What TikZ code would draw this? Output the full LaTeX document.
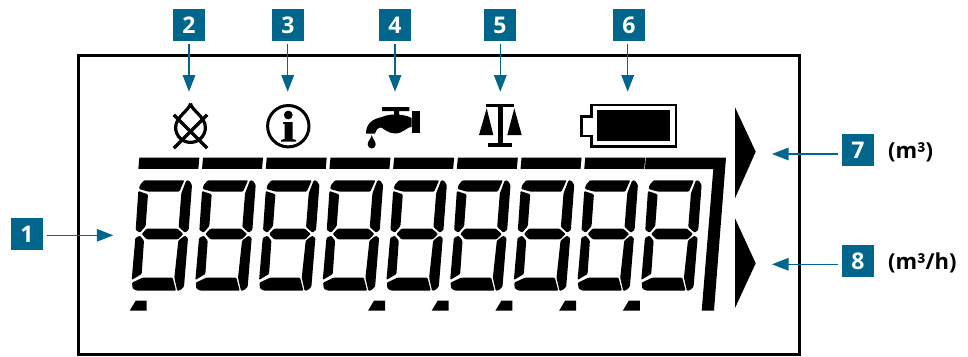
\documentclass[tikz,border=0pt]{standalone}
\usepackage{fontspec}
\setmainfont{Open Sans}
\usetikzlibrary{arrows.meta}
\definecolor{teal}{HTML}{00668C}
\tikzset{
  badge/.style={fill=teal,text=white,minimum size=32pt,inner sep=0pt,outer sep=0pt,font=\fontsize{23}{23}\selectfont\bfseries},
  unit/.style={anchor=west,inner sep=0pt,font=\fontsize{22}{22}\selectfont\bfseries},
  arr/.style={draw=teal,line width=1.3pt,-{Triangle[length=16.5pt,width=12.5pt,fill=teal]}},
  seg/.style={fill=black,draw=none,rounded corners=1pt}
}
\begin{document}
\begin{tikzpicture}[x=1pt,y=-1pt]
\useasboundingbox (0,0) rectangle (968,356);
% frame
\draw[line width=3.3pt] (78.2,55.7) rectangle (799.5,354.2);
% digits
\foreach \i in {0,...,8}{
  \begin{scope}[shift={(120+63.7*\i,90)},x=0.3333pt,y=-0.3333pt]
    \fill[seg] (57,297)--(60,285)--(72,271)--(193,271)--(178,305)--(85,305)--cycle;
    \fill[seg] (199,271)--(208,272)--(216,285)--(206,420)--(195,428)--(176,411)--(184,310)--cycle;
    \fill[seg] (55,303)--(84,313)--(77,408)--(60,428)--(47,420)--cycle;
    \fill[seg] (65,432)--(80,416)--(172,416)--(190,432)--(174,448)--(80,448)--cycle;
    \fill[seg] (46,444)--(60,437)--(72,452)--(65,552)--(35,570)--cycle;
    \fill[seg] (204,444)--(194,437)--(175,452)--(163,563)--(172,603)--(182,600)--(192,590)--cycle;
    \fill[seg] (36,578)--(68,563)--(158,563)--(168,602)--(50,602)--(38,596)--cycle;
    \ifnum\i<8
      \fill[seg,rounded corners=0pt] (58,203)--(238,203)--(235,237)--(55,237)--cycle;
    \fi
  \end{scope}
}
% last bar with right vertical
\fill (645.7,157.7)--(726,157.7)--(714,310.7)--(701.7,310.7)--(713.3,169)--(645,169)--cycle;
% decimals
\foreach \px in {135.7,374,437.7,501.4,565.1,628.8}
  \fill (\px,300.7)--(\px+11,300.7)--(\px+11,310.7)--(\px-6,310.7)--cycle;
% triangles
\fill (735,107.3)--(755.7,151.7)--(735,198.3)--cycle;
\fill (735,218.3)--(755.7,263.3)--(735,308)--cycle;
% drop icon
\draw[line width=3.2pt] (190.5,103.5) .. controls (191.5,110) and (205.4,117) .. (205.4,127.5)
   arc[start angle=0,end angle=180,radius=14.9]
   .. controls (175.6,117) and (189.5,110) .. (190.5,103.5);
\draw[line width=3.3pt] (173.8,114.8)--(207.2,148.2);
\draw[line width=3.3pt] (207.2,114.8)--(173.8,148.2);
% info icon
\draw[line width=3pt] (288.3,126.2) circle[radius=20.7];
\fill (288.3,115) circle[radius=4.4];
\fill (283,122)--(292.6,122)--(292.6,139)--(296,140)--(296,141.6)--(281,141.6)--(281,140)--(284.6,139)--(284.6,124)--(283,123.6)--cycle;
% tap icon
\fill (382,107)--(409.3,107)--(409.3,111)--(399,111)--(399,115)--(394,115)--(394,111)--(382,111)--cycle;
\fill (411.7,111)--(420,111)--(420,133.3)--(411.7,133.3)--cycle;
\fill (411.7,118)--(411.7,126.7) .. controls (407,127) and (403,133.5) .. (395,133.5)
  .. controls (388,133.5) and (383,128) .. (381,127.5) .. controls (377,127.5) and (376,131) .. (375,133.5)
  --(366,133.5) .. controls (366,124) and (372,119) .. (382,117) .. controls (388,114) and (402,113) .. cycle;
\fill (371.7,135) .. controls (372.5,139) and (375.7,141) .. (375.7,144.5) arc[start angle=0,end angle=180,radius=4] .. controls (367.7,141) and (370.9,139) .. (371.7,135);
% balance icon
\fill (485.7,104.3) rectangle (514.3,106.7);
\fill (498,106.7) rectangle (502.7,143.3);
\fill (488.3,143.3) rectangle (512,146.7);
\fill (486.7,108.3)--(493.3,135)--(479,135)--cycle;
\fill (514.3,108.3)--(521.7,135)--(507.3,135)--cycle;
% battery icon
\draw[line width=2.1pt] (591.5,105.2)--(676,105.2)--(676,146.5)--(591.5,146.5)--(591.5,136)--(581.5,136)--(581.5,116.5)--(591.5,116.5)--cycle;
\fill (596.7,110) rectangle (670,141);
% badges
\node[badge] (b1) at (27,234) {1};
\node[badge] (b2) at (189,25) {2};
\node[badge] (b3) at (288,25) {3};
\node[badge] (b4) at (395,25) {4};
\node[badge] (b5) at (500,25) {5};
\node[badge] (b6) at (629,25) {6};
\node[badge] (b7) at (858,150) {7};
\node[badge] (b8) at (858,261) {8};
\node[unit] (u7) at (888,152) {(m³)};
\node[unit] (u8) at (888,263) {(m³/h)};
% arrows
\coordinate (t1) at (113.3,235.3);
\coordinate (t2) at (189,91.7);
\coordinate (t3) at (287.7,91.7);
\coordinate (t4) at (395,91.7);
\coordinate (t5) at (500.3,91.7);
\coordinate (t6) at (627.7,91.7);
\coordinate (t7) at (772,154);
\coordinate (t8) at (772,264.3);
\draw[arr] ([xshift=4.3pt]b1.east |- t1) -- (t1);
\foreach \k in {2,...,6}{ \draw[arr] ([yshift=-3.3pt]b\k.south -| t\k) -- (t\k); }
\draw[arr] ([xshift=-4pt]b7.west |- t7) -- (t7);
\draw[arr] ([xshift=-4pt]b8.west |- t8) -- (t8);
\end{tikzpicture}
\end{document}
